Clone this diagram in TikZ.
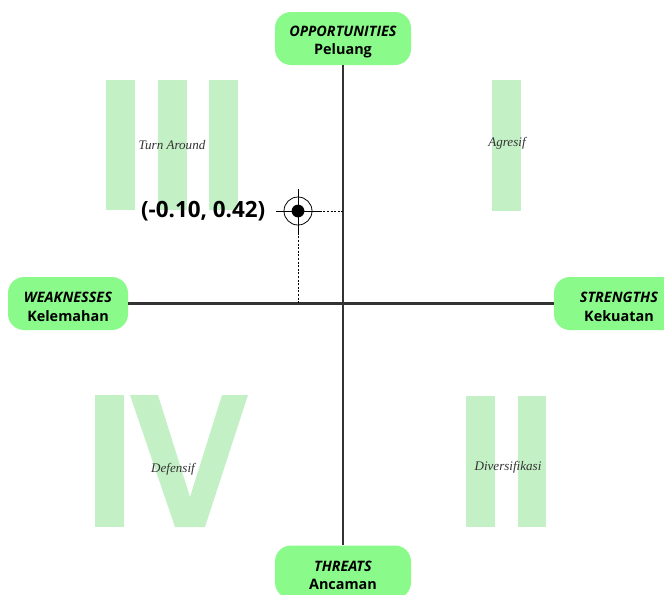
\documentclass[tikz,border=0pt]{standalone}
\usepackage{fontspec}
\setmainfont{Liberation Serif}
\newfontfamily\opensans{Open Sans}
\usetikzlibrary{positioning}
\definecolor{swotgreen}{RGB}{138,251,138}
\definecolor{romangreen}{RGB}{196,240,198}
\definecolor{axisgrey}{RGB}{51,51,51}
\newcommand{\swotlift}{\rule{0pt}{13pt}}
\tikzset{
  swot_box/.style = {rectangle, rounded corners=12pt, fill=swotgreen,
    draw=none, align=center, inner sep=0pt, minimum height=39.75pt,
    font=\opensans\fontsize{10.8}{14}\selectfont},% kotak faktor SWOT
  roman_fill/.style = {fill=romangreen, draw=none},% angka romawi kuadran
  quad_lbl/.style = {font=\itshape\fontsize{9.8}{11}\selectfont,
    text=black!80},% nama strategi
  axis_line/.style = {draw=axisgrey, line width=1.9pt},% sumbu
  guide/.style = {draw=black, line width=0.7pt,
    dash pattern=on 1.5pt off 1.2pt}% garis bantu titik
}
\begin{document}
\begin{tikzpicture}[x=0.75pt, y=-0.75pt]
\useasboundingbox (0,0) rectangle (664,594);
\clip (0,0) rectangle (664,594);
% angka romawi di latar
\foreach \x in {106,158,209}
  \fill[roman_fill] (\x,80) rectangle ++(29,130);
\fill[roman_fill] (492,80) rectangle ++(29,131);
\fill[roman_fill] (466,396) rectangle ++(29,131);
\fill[roman_fill] (518,396) rectangle ++(28,131);
\fill[roman_fill] (95,395) rectangle ++(29,132);
\fill[roman_fill] (130,395) -- (158,395) -- (190,497) -- (222,395)
  -- (248,395) -- (205,527) -- (175,527) -- cycle;
% label kuadran
\node[quad_lbl] (q3) at (172,145) {Turn Around};
\node[quad_lbl] (q1) at (507,143) {Agresif};
\node[quad_lbl] (q4) at (173,469) {Defensif};
\node[quad_lbl] (q2) at (508,467) {Diversifikasi};
% faktor SWOT
\node[swot_box, minimum width=102pt] (opp) at (343,38.5)
  {\swotlift\textbf{\textit{OPPORTUNITIES}}\\\textbf{Peluang}};
\node[swot_box, minimum width=102pt] (thr) at (343,572)
  {\swotlift\textbf{\textit{THREATS}}\\\textbf{Ancaman}};
\node[swot_box, minimum width=90pt] (weak) at (68,303.5)
  {\swotlift\textbf{\textit{WEAKNESSES}}\\\textbf{Kelemahan}};
\node[swot_box, minimum width=97.5pt] (str) at (619,303.5)
  {\swotlift\textbf{\textit{STRENGTHS}}\\\textbf{Kekuatan}};
\draw[axis_line] (opp) -- (thr);
\draw[axis_line] (weak) -- (str);
% titik posisi
\node[circle, draw=black, line width=0.6pt, minimum size=21pt,
  inner sep=0pt] (pt) at (298,211) {};
\fill (pt) circle (4.8pt);
\draw[line width=0.5pt] ([xshift=-5.6pt]pt.west) -- ([xshift=5.6pt]pt.east);
\draw[line width=0.5pt] ([yshift=5.6pt]pt.north) -- ([yshift=-5.6pt]pt.south);
\coordinate (py) at (343,211);
\coordinate (px) at (298,303);
\draw[guide] ([xshift=5.6pt]pt.east) -- (py);
\draw[guide] ([yshift=-5.6pt]pt.south) -- (px);
\node[font=\opensans\bfseries\fontsize{16.8}{18}\selectfont, anchor=east]
  (val) at (270,211) {(-0.10, 0.42)};
\end{tikzpicture}
\end{document}
